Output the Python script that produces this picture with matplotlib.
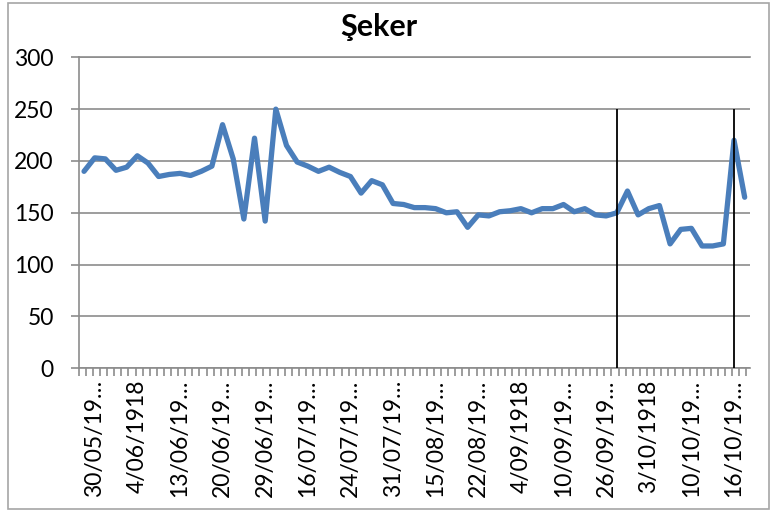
import matplotlib
matplotlib.use('Agg')
import matplotlib.pyplot as plt
import numpy as np
from matplotlib.patches import Rectangle

plt.rcParams['font.family'] = ['Lato', 'DejaVu Sans']

title = "Şeker"
values = [190, 203, 202, 191, 194, 205, 198, 185, 187, 188, 186, 190, 195, 235,
          202, 144, 222, 142, 250, 215, 199, 195, 190, 194, 189, 185, 169, 181,
          177, 159, 158, 155, 155, 154, 150, 151, 136, 148, 147, 151, 152, 154,
          150, 154, 154, 158, 151, 154, 148, 147, 150, 171, 148, 154, 157, 120,
          134, 135, 118, 118, 120, 220, 165]
tick_labels = ["30/05/19…", "4/06/1918", "13/06/19…", "20/06/19…", "29/06/19…",
               "16/07/19…", "24/07/19…", "31/07/19…", "15/08/19…", "22/08/19…",
               "4/09/1918", "10/09/19…", "26/09/19…", "3/10/1918", "10/10/19…",
               "16/10/19…"]
label_start, label_step = 1, 4
event_idx = [50, 61]
event_top = 250
y_ticks = [0, 50, 100, 150, 200, 250, 300]

W, H = 771, 511
fig = plt.figure(figsize=(W / 100, H / 100), dpi=100)
ax = fig.add_axes([78.7 / W, 1 - 368.3 / H, (750 - 78.7) / W, (368.3 - 57.3) / H])

n = len(values)
x = np.arange(n)
grid_c = '#8c8c8c'

ax.set_ylim(0, 300)
ax.set_xlim(-0.5, n - 0.5)
ax.set_yticks(y_ticks)
ax.yaxis.grid(True, color=grid_c, lw=1.2)
ax.set_axisbelow(True)

ax.plot(x, values, color='#4a7ebb', lw=3.8, solid_joinstyle='round',
        solid_capstyle='round', zorder=3)
ax.vlines(event_idx, 0, event_top, color='black', lw=1.3, zorder=4)

for s in ['right']:
    ax.spines[s].set_visible(False)
for s in ['left', 'bottom', 'top']:
    ax.spines[s].set_color(grid_c)
    ax.spines[s].set_linewidth(1.2)

ax.tick_params(axis='y', direction='out', length=6, color=grid_c, width=1.2,
               labelsize=16.5, pad=12)
lab_pos = list(range(label_start, n, label_step))[:len(tick_labels)]
ax.set_xticks(lab_pos)
ax.set_xticklabels(tick_labels, rotation=90, fontsize=16.5)
for t in ax.get_xticklabels():
    t.set_x(t.get_position()[0])
ax.tick_params(axis='x', which='major', length=0, pad=8)
minor = np.arange(-0.5, n - 0.5 + 1e-6, 2 / 3)
ax.set_xticks(minor, minor=True)
ax.tick_params(axis='x', which='minor', direction='out', length=5.5,
               color=grid_c, width=1.2)

fig.text(379 / W, 1 - 27 / H, title, ha='center', va='center',
         fontsize=22, fontweight='bold')

fig.patches.append(Rectangle((8 / W, 2 / H), (W - 10) / W, (H - 5) / H,
                             transform=fig.transFigure, fill=False,
                             edgecolor='#a6a6a6', lw=1.2))

fig.savefig('out.png', dpi=100)
